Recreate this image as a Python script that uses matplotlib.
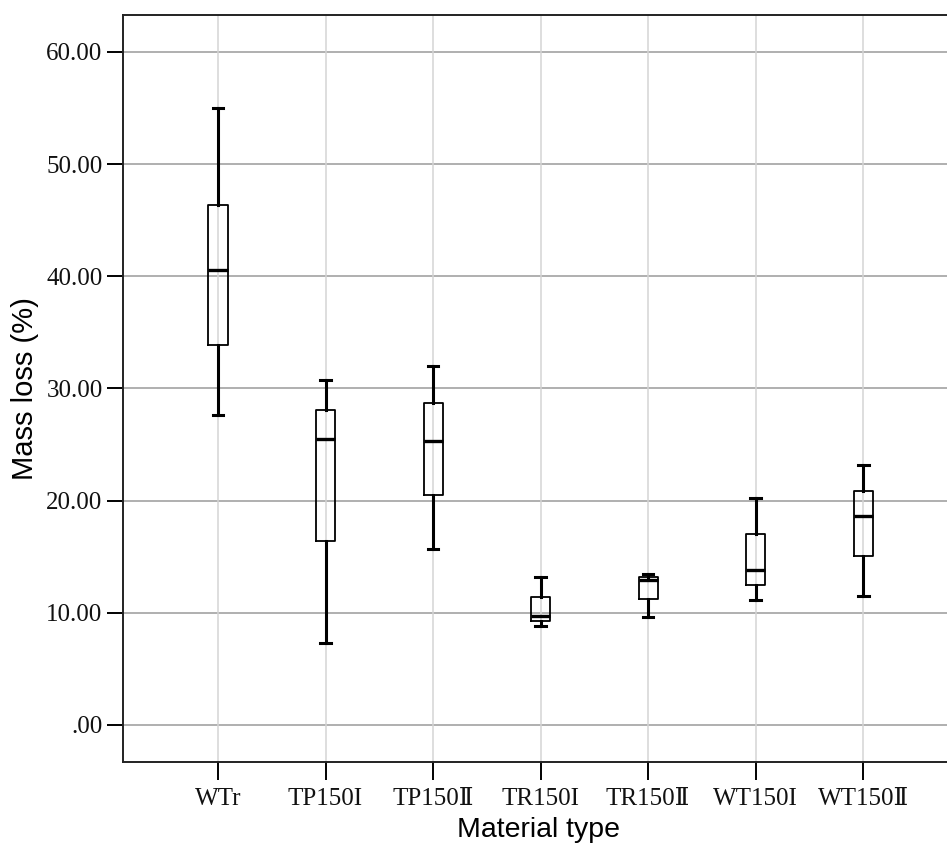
import matplotlib
matplotlib.use('Agg')
import matplotlib.pyplot as plt

# Values
categories = ['WTr', 'TP150I', 'TP150Ⅱ', 'TR150I', 'TR150Ⅱ', 'WT150I', 'WT150Ⅱ']
whisker_low = [27.6, 7.3, 15.7, 8.8, 9.6, 11.1, 11.5]
quartile_1 = [33.9, 16.4, 20.5, 9.3, 11.2, 12.5, 15.1]
medians = [40.6, 25.5, 25.3, 9.7, 12.9, 13.8, 18.6]
quartile_3 = [46.4, 28.1, 28.7, 11.4, 13.2, 17.0, 20.9]
whisker_high = [55.0, 30.8, 32.0, 13.2, 13.5, 20.2, 23.2]
y_ticks = [0, 10, 20, 30, 40, 50, 60]
y_tick_labels = ['.00', '10.00', '20.00', '30.00', '40.00', '50.00', '60.00']

serif = ['Liberation Serif', 'DejaVu Serif', 'Noto Sans CJK JP']
sans = ['Liberation Sans', 'DejaVu Sans']

fig = plt.figure(figsize=(9.47, 8.51), dpi=100)
ax = fig.add_axes([0.1296, 0.1046, 0.8704, 0.8778])

# build the stats for bxp
stats = []
for i in range(len(categories)):
    stats.append({'whislo': whisker_low[i], 'q1': quartile_1[i], 'med': medians[i],
                  'q3': quartile_3[i], 'whishi': whisker_high[i], 'fliers': []})

positions = list(range(len(categories)))
ax.bxp(stats, positions=positions, widths=0.177, showfliers=False,
       boxprops=dict(color='black', linewidth=1.3),
       medianprops=dict(color='black', linewidth=2.4),
       whiskerprops=dict(color='black', linewidth=2.2),
       capprops=dict(color='black', linewidth=2.2),
       capwidths=0.1, zorder=3)

# grid lines
for y in y_ticks:
    ax.axhline(y, color='#a9a9a9', linewidth=1.3, zorder=1)
for x in positions:
    ax.axvline(x, color='#d4d4d4', linewidth=1.1, zorder=1)

ax.set_xlim(-0.886, 6.78)
ax.set_ylim(-3.3, 63.3)

ax.set_yticks(y_ticks)
ax.set_yticklabels(y_tick_labels, family=serif, fontsize=18, color='#111111')
ax.set_xticks(positions)
ax.set_xticklabels(categories, family=serif, fontsize=18, color='#111111')
ax.tick_params(axis='y', length=11.5, width=1.4, pad=3)
ax.tick_params(axis='x', length=13, width=1.4, pad=6)

for side in ['left', 'top', 'bottom']:
    ax.spines[side].set_linewidth(1.4)
    ax.spines[side].set_color('#222222')
ax.spines['right'].set_visible(False)

fig.text(0.569, 0.025, 'Material type', family=sans, fontsize=20.5, ha='center', va='center')
fig.text(0.026, 0.543, 'Mass loss (%)', family=sans, fontsize=21, rotation=90,
         ha='center', va='center')

fig.savefig('out.png', dpi=100, facecolor='white')
